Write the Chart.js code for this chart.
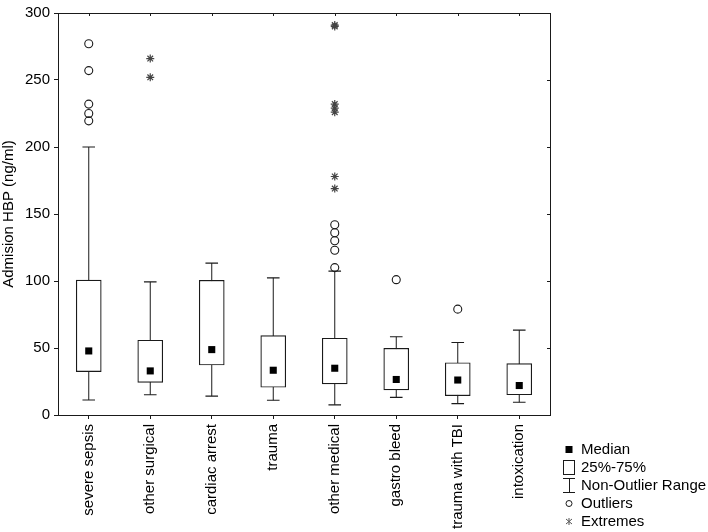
<!DOCTYPE html>
<html>
<head>
<meta charset="utf-8">
<script src="https://cdn.jsdelivr.net/npm/chart.js@4/dist/chart.umd.min.js"></script>
<style>
html,body{margin:0;padding:0;background:#fff;}
canvas{display:block;}
</style>
</head>
<body>
<canvas id="c" width="708" height="532"></canvas>
<script>
// ---- data ----
const categories = ['severe sepsis','other surgical','cardiac arrest','trauma','other medical','gastro bleed','trauma with TBI','intoxication'];
const q1Values      = [32.4, 24.4, 37.3, 20.7, 23.2, 18.8, 14.4, 15.1];
const q3Values      = [100.7, 55.8, 100.5, 59.3, 57.3, 49.8, 39.0, 38.3];
const medianValues  = [47.8, 32.9, 48.8, 33.4, 34.9, 26.5, 26.1, 22.0];
const whiskerLow    = [11.2, 15.1, 14.1, 11.0, 7.6, 13.2, 8.5, 9.5];
const whiskerHigh   = [200, 99.3, 113.4, 102.4, 107.3, 58.4, 54.1, 63.4];
const outlierValues = [[277, 257, 232, 225, 219.5], [], [], [], [110, 123, 130, 136, 142], [101], [79], []];
const extremeValues = [[], [266, 252], [], [], [169, 178, 226, 229, 232, 290, 291], [], [], []];
const yTicks = {min: 0, max: 300, step: 50};
const yTitle = 'Admision HBP (ng/ml)';
const legendLabels = ['Median', '25%-75%', 'Non-Outlier Range', 'Outliers', 'Extremes'];

// ---- derived datasets ----
const boxData = categories.map((c, i) => [q1Values[i], q3Values[i]]);
const whiskerData = [];
const capData = [];
categories.forEach((c, i) => {
  whiskerData.push({x: c, y: whiskerLow[i]}, {x: c, y: whiskerHigh[i]}, {x: c, y: null});
  capData.push({x: c, y: whiskerLow[i]}, {x: c, y: whiskerHigh[i]});
});
const medianData = categories.map((c, i) => ({x: c, y: medianValues[i]}));
const outlierData = [];
outlierValues.forEach((arr, i) => arr.forEach(v => outlierData.push({x: categories[i], y: v})));
const extremeData = [];
extremeValues.forEach((arr, i) => arr.forEach(v => extremeData.push({x: categories[i], y: v})));

const INK = '#1a1a1a';
Chart.defaults.font.family = "'Liberation Sans', Arial, sans-serif";
Chart.defaults.font.size = 15;
Chart.defaults.color = '#000';

// ---- legend icons ----
function icon(w, h, draw) {
  const cv = document.createElement('canvas');
  cv.width = w; cv.height = h;
  const g = cv.getContext('2d');
  g.strokeStyle = INK; g.fillStyle = '#000'; g.lineWidth = 1;
  draw(g, w, h);
  return cv;
}
const icons = [
  icon(8, 7, g => { g.fillRect(0.5, 0, 7, 7); }),
  icon(12, 15, g => { g.strokeRect(0.5, 0.5, 11, 14); }),
  icon(12, 15, g => { g.beginPath(); g.moveTo(0, 0.5); g.lineTo(12, 0.5); g.moveTo(6.5, 0.5); g.lineTo(6.5, 14.5); g.moveTo(0, 14.5); g.lineTo(12, 14.5); g.stroke(); }),
  icon(8, 7, g => { g.beginPath(); g.arc(4, 3.5, 3, 0, Math.PI * 2); g.stroke(); }),
  icon(8, 7, g => { g.strokeStyle = '#555'; g.beginPath(); g.moveTo(4, 0); g.lineTo(4, 7); g.moveTo(1, 1); g.lineTo(7, 6); g.moveTo(7, 1); g.lineTo(1, 6); g.stroke(); })
];

// inward tick marks on the top and right frame
const innerTicks = {
  id: 'innerTicks',
  afterDraw(chart) {
    const {ctx, chartArea: a, scales: {x, y}} = chart;
    ctx.save();
    ctx.strokeStyle = INK; ctx.lineWidth = 1;
    ctx.beginPath();
    x.ticks.forEach((t, i) => {
      const px = Math.round(x.getPixelForTick(i)) + 0.5;
      ctx.moveTo(px, a.top); ctx.lineTo(px, a.top + 3);
    });
    y.ticks.forEach((t, i) => {
      if (t.value <= yTicks.min || t.value >= yTicks.max) return;
      const py = Math.round(y.getPixelForTick(i)) + 0.5;
      ctx.moveTo(a.right, py); ctx.lineTo(a.right - 3, py);
    });
    ctx.stroke();
    ctx.restore();
  }
};

new Chart(document.getElementById('c'), {
  type: 'bar',
  data: {
    labels: categories,
    datasets: [
      {type: 'line', label: 'whisker', data: whiskerData, borderColor: INK, borderWidth: 1, pointRadius: 0, spanGaps: false, order: 6},
      {type: 'bar', label: 'box', data: boxData, backgroundColor: '#fff', borderColor: INK, borderWidth: 1.2, borderSkipped: false, barThickness: 25, grouped: false, order: 5},
      {type: 'line', label: 'caps', data: capData, showLine: false, pointStyle: 'line', pointRadius: 6.3, borderColor: INK, borderWidth: 1.2, order: 4},
      {type: 'line', label: 'median', data: medianData, showLine: false, pointStyle: 'rect', pointRadius: 5, backgroundColor: '#000', borderColor: '#000', borderWidth: 0, order: 3},
      {type: 'line', label: 'outliers', data: outlierData, showLine: false, pointStyle: 'circle', pointRadius: 4, backgroundColor: 'rgba(0,0,0,0)', borderColor: INK, borderWidth: 1.1, order: 2},
      {type: 'line', label: 'extremes', data: extremeData, showLine: false, pointStyle: 'star', pointRadius: 4, borderColor: '#444', borderWidth: 1.2, order: 1}
    ]
  },
  options: {
    responsive: false,
    devicePixelRatio: 1,
    animation: false,
    events: [],
    layout: {padding: 0},
    plugins: {
      tooltip: {enabled: false},
      legend: {
        display: true,
        position: 'right',
        align: 'end',
        maxWidth: 146.5,
        labels: {
          usePointStyle: true,
          boxWidth: 9,
          padding: 3,
          color: '#000',
          font: {size: 15},
          generateLabels: () => legendLabels.map((t, i) => ({
            text: t, pointStyle: icons[i], fillStyle: '#000', strokeStyle: INK, lineWidth: 0, hidden: false, datasetIndex: i, fontColor: '#000'
          }))
        },
        onClick: null
      }
    },
    scales: {
      x: {
        type: 'category',
        position: 'bottom',
        offset: true,
        grid: {display: true, offset: false, drawOnChartArea: false, drawTicks: true, tickLength: 4, color: INK},
        border: {display: true, color: INK, width: 1},
        ticks: {autoSkip: false, minRotation: 90, maxRotation: 90, padding: 5, color: '#000', font: {size: 15}},
        afterFit(s) { s.height = 117; }
      },
      xTop: {
        type: 'category',
        position: 'top',
        offset: true,
        grid: {display: false},
        border: {display: true, color: INK, width: 1},
        ticks: {display: false},
        afterFit(s) { s.height = 5; }
      },
      y: {
        type: 'linear',
        position: 'left',
        min: yTicks.min, max: yTicks.max,
        grid: {display: true, drawOnChartArea: false, drawTicks: true, tickLength: 4, color: INK},
        border: {display: true, color: INK, width: 1},
        ticks: {stepSize: yTicks.step, padding: 4, color: '#000', font: {size: 15}},
        title: {display: true, text: yTitle, color: '#000', font: {size: 15}, padding: {top: 0, bottom: 0}},
        afterFit(s) { s.width = 58; }
      },
      yR: {
        type: 'linear',
        position: 'right',
        min: yTicks.min, max: yTicks.max,
        grid: {display: false},
        border: {display: true, color: INK, width: 1},
        ticks: {display: false},
        afterFit(s) { s.width = 11.5; }
      }
    }
  },
  plugins: [innerTicks]
});
</script>
</body>
</html>
